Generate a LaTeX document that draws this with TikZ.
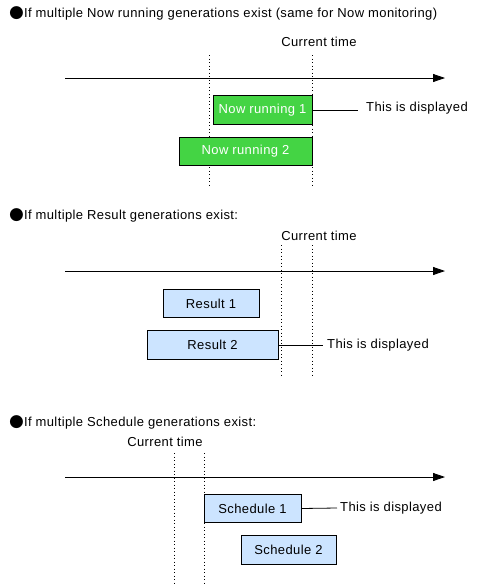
\documentclass[tikz,border=0pt]{standalone}
\usepackage{fontspec}
\setmainfont[LetterSpace=3]{Liberation Sans}
\newfontfamily\symfont{DejaVu Sans}
\usetikzlibrary{arrows.meta, positioning}
\definecolor{nowgreen}{RGB}{68,212,68}
\definecolor{genblue}{RGB}{204,228,255}
\newcommand{\blt}{{\symfont\fontsize{17}{15}\selectfont ●}}
\tikzset{
    %Define standard arrow tip
    >={Triangle[length=12pt,width=8pt]},
}

\begin{document}
\begin{tikzpicture}[x=1pt, y=-1pt, font=\fontsize{13}{15}\selectfont]
	\tikzset{
	  gen/.style={draw, line width=0.8pt, inner sep=0pt,
	              minimum height=28.5pt, shape=rectangle},
	  nowbox/.style={gen, fill=nowgreen, text=white},
	  resbox/.style={gen, fill=genblue},
	  axis/.style={line width=0.8pt, ->},
	  tick/.style={line width=0.8pt, dash pattern=on 1pt off 2.5pt},
	  lead/.style={line width=0.8pt},
	  lbl/.style={inner sep=0pt, anchor=west}
	}
	\useasboundingbox (0,0) rectangle (493,587);

	% Now running
	\node[lbl] (nowtitle) at (9,13) {\blt If multiple Now running generations exist (same for Now monitoring)};
	\node[inner sep=0pt] (nowcur) at (319,42) {Current time};
	\coordinate (nowt1a) at (209,55);  \coordinate (nowt1b) at (209,185);
	\coordinate (nowt2a) at (312,55);  \coordinate (nowt2b) at (312,185);
	\coordinate (nowax1) at (65,78);   \coordinate (nowax2) at (445,78);
	\draw[tick] (nowt1a) -- (nowt1b);
	\draw[tick] (nowt2a) -- (nowt2b);
	\draw[axis] (nowax1) -- (nowax2);
	\node[nowbox, minimum width=99pt] (now1) at (262.5,110) {Now running 1};
	\node[nowbox, minimum width=133pt] (now2) at (245.5,151.5) {Now running 2};
	\coordinate (nowend) at (358,110);
	\draw[lead] (now1.east) -- (nowend);
	\node[lbl, right=8pt of nowend, yshift=1.5pt] (nowshow) {This is displayed};

	% Result
	\node[lbl] (restitle) at (9,215) {\blt If multiple Result generations exist:};
	\node[inner sep=0pt] (rescur) at (319,236) {Current time};
	\coordinate (rest1a) at (281,245); \coordinate (rest1b) at (281,375);
	\coordinate (rest2a) at (312,245); \coordinate (rest2b) at (312,375);
	\coordinate (resax1) at (65,271);  \coordinate (resax2) at (445,271);
	\draw[tick] (rest1a) -- (rest1b);
	\draw[tick] (rest2a) -- (rest2b);
	\draw[axis] (resax1) -- (resax2);
	\node[resbox, minimum width=96pt] (res1) at (211,303.5) {Result 1};
	\node[resbox, minimum width=131pt] (res2) at (212.5,345) {Result 2};
	\coordinate (resend) at (323,345);
	\draw[lead] (res2.east) -- (resend);
	\node[lbl, right=4pt of resend] (resshow) {This is displayed};

	% Schedule
	\node[lbl] (schtitle) at (9,422) {\blt If multiple Schedule generations exist:};
	\node[inner sep=0pt] (schcur) at (165,442) {Current time};
	\coordinate (scht1a) at (174,453); \coordinate (scht1b) at (174,583);
	\coordinate (scht2a) at (204,453); \coordinate (scht2b) at (204,583);
	\coordinate (schax1) at (65,477);  \coordinate (schax2) at (445,477);
	\draw[tick] (scht1a) -- (scht1b);
	\draw[tick] (scht2a) -- (scht2b);
	\draw[axis] (schax1) -- (schax2);
	\node[resbox, minimum width=97pt] (sch1) at (252.5,508.5) {Schedule 1};
	\node[resbox, minimum width=95pt] (sch2) at (288.5,550) {Schedule 2};
	\coordinate (schend) at (337,508);
	\draw[lead] (sch1.east) -- (schend);
	\node[lbl, right=3pt of schend] (schshow) {This is displayed};
\end{tikzpicture}
\end{document}
